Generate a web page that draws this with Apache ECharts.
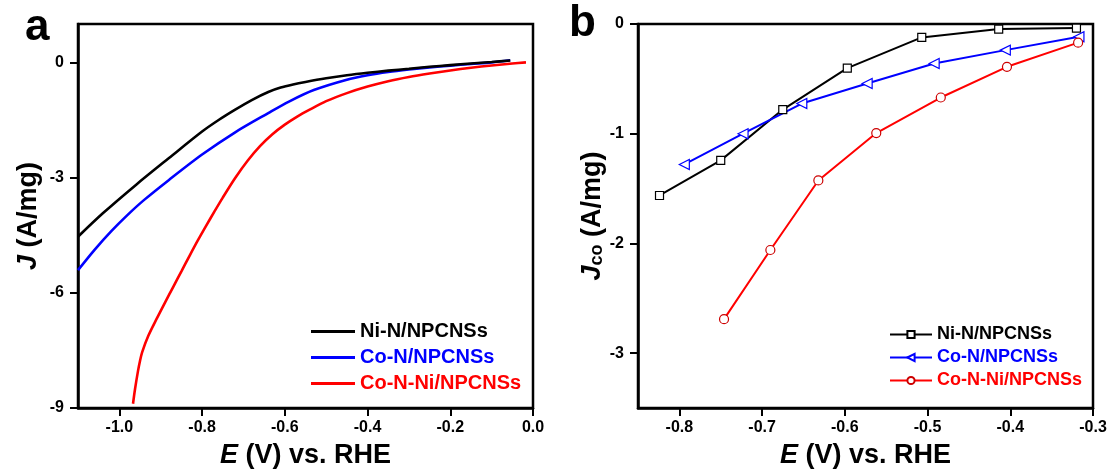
<!DOCTYPE html>
<html>
<head>
<meta charset="utf-8">
<script src="https://cdn.jsdelivr.net/npm/echarts@6/dist/echarts.min.js"></script>
<style>
  html, body { margin: 0; padding: 0; background: #fff; }
  #chart { width: 1113px; height: 475px; }
</style>
</head>
<body>
<div id="chart"></div>
<script>
// Series names
const names = ['Ni-N/NPCNSs', 'Co-N/NPCNSs', 'Co-N-Ni/NPCNSs'];
const colors = ['#000000', '#0000ff', '#ff0000'];

// (a) polarization curves: potential E (V vs. RHE) and current density J (A/mg)
const lsvE_NiN = [-1.10, -1.04, -0.96, -0.88, -0.80, -0.76, -0.72, -0.68, -0.64, -0.61, -0.58, -0.55, -0.50, -0.45, -0.40, -0.35, -0.30, -0.25, -0.20, -0.15, -0.10, -0.055];
const lsvJ_NiN = [-4.54, -3.93, -3.19, -2.49, -1.80, -1.50, -1.23, -0.98, -0.77, -0.655, -0.575, -0.51, -0.415, -0.335, -0.27, -0.215, -0.165, -0.115, -0.07, -0.03, 0.01, 0.05];
const lsvE_CoN = [-1.10, -1.06, -1.02, -0.98, -0.94, -0.88, -0.80, -0.72, -0.64, -0.59, -0.53, -0.45, -0.40, -0.35, -0.30, -0.25, -0.20, -0.15, -0.10, -0.055];
const lsvJ_CoN = [-5.41, -4.88, -4.40, -3.97, -3.58, -3.06, -2.40, -1.82, -1.32, -1.02, -0.72, -0.45, -0.335, -0.25, -0.185, -0.13, -0.083, -0.04, 0.0, 0.055];
const lsvE_CoNNi = [-0.967, -0.962, -0.955, -0.95, -0.945, -0.93, -0.91, -0.89, -0.87, -0.85, -0.83, -0.81, -0.79, -0.77, -0.75, -0.72, -0.69, -0.66, -0.63, -0.60, -0.57, -0.54, -0.50, -0.45, -0.40, -0.35, -0.30, -0.25, -0.20, -0.15, -0.10, -0.05, -0.017];
const lsvJ_CoNNi = [-8.89, -8.50, -8.04, -7.77, -7.55, -7.12, -6.68, -6.26, -5.85, -5.44, -5.03, -4.63, -4.25, -3.88, -3.52, -3.01, -2.56, -2.18, -1.87, -1.62, -1.41, -1.23, -1.01, -0.80, -0.63, -0.49, -0.38, -0.29, -0.21, -0.14, -0.08, -0.03, 0.0];

// (b) CO partial current density J_co at each potential
const coE_NiN = [-0.824, -0.750, -0.675, -0.597, -0.507, -0.414, -0.320];
const coJ_NiN = [-1.563, -1.243, -0.78, -0.402, -0.122, -0.046, -0.037];
const coE_CoN = [-0.794, -0.723, -0.652, -0.573, -0.492, -0.406, -0.317];
const coJ_CoN = [-1.28, -1.0, -0.725, -0.543, -0.36, -0.238, -0.116];
const coE_CoNNi = [-0.746, -0.690, -0.632, -0.562, -0.484, -0.404, -0.318];
const coJ_CoNNi = [-2.69, -2.06, -1.426, -0.994, -0.67, -0.39, -0.17];

// Tick values
const ticksXa = [-1.0, -0.8, -0.6, -0.4, -0.2, 0.0];
const ticksYa = [0, -3, -6, -9];
const ticksXb = [-0.8, -0.7, -0.6, -0.5, -0.4, -0.3];
const ticksYb = [0, -1, -2, -3];

const zip = (xs, ys) => xs.map((x, i) => [x, ys[i]]);

const FONT = '"Liberation Sans", Arial, sans-serif';
const AXIS_W = 2.5;

function xAxisOf(gridIndex, min, max, ticks) {
  return {
    type: 'value', gridIndex, min, max,
    axisLine: { show: true, onZero: false, lineStyle: { color: '#000', width: AXIS_W } },
    axisTick: { show: true, customValues: ticks, length: 8, inside: false, lineStyle: { color: '#000', width: 2 } },
    axisLabel: {
      customValues: ticks, margin: 12, color: '#000', fontFamily: FONT, fontWeight: 'bold', fontSize: 16,
      formatter: v => v.toFixed(1)
    },
    splitLine: { show: false },
    name: '{i|E} (V) vs. RHE', nameLocation: 'middle', nameGap: 34,
    nameTextStyle: {
      color: '#000', fontFamily: FONT, fontWeight: 'bold', fontSize: 27,
      rich: { i: { fontFamily: FONT, fontWeight: 'bold', fontStyle: 'italic', fontSize: 27, color: '#000' } }
    }
  };
}

function yAxisOf(gridIndex, min, max, ticks, name, rich, gap) {
  return {
    type: 'value', gridIndex, min, max,
    axisLine: { show: true, onZero: false, lineStyle: { color: '#000', width: AXIS_W } },
    axisTick: { show: true, customValues: ticks, length: 8, inside: false, lineStyle: { color: '#000', width: 2 } },
    axisLabel: {
      customValues: ticks, margin: 14, color: '#000', fontFamily: FONT, fontWeight: 'bold', fontSize: 16,
      formatter: v => String(v)
    },
    splitLine: { show: false },
    name, nameLocation: 'middle', nameGap: gap,
    nameTextStyle: { color: '#000', fontFamily: FONT, fontWeight: 'bold', fontSize: 27, rich }
  };
}

const richJ = {
  i: { fontFamily: FONT, fontWeight: 'bold', fontStyle: 'italic', fontSize: 27, color: '#000' }
};
const richJco = {
  i: { fontFamily: FONT, fontWeight: 'bold', fontStyle: 'italic', fontSize: 27, color: '#000' },
  s: { fontFamily: FONT, fontWeight: 'bold', fontSize: 18, color: '#000', verticalAlign: 'bottom', padding: [14, 0, 0, 0], lineHeight: 18 }
};

const lsvSeries = [
  [lsvE_NiN, lsvJ_NiN],
  [lsvE_CoN, lsvJ_CoN],
  [lsvE_CoNNi, lsvJ_CoNNi]
].map(([xs, ys], k) => ({
  name: names[k], type: 'line', xAxisIndex: 0, yAxisIndex: 0,
  data: zip(xs, ys), symbol: 'none', smooth: 0.3,
  lineStyle: { color: colors[k], width: 2.6 }, itemStyle: { color: colors[k] },
  z: 3 - k, animation: false
}));

const markerDefs = [
  { symbol: 'rect', size: 8, rotate: 0, border: '#000000' },
  { symbol: 'triangle', size: 10, rotate: 90, border: '#0000ff' },
  { symbol: 'circle', size: 9, rotate: 0, border: '#cc0000' }
];

const coSeries = [
  [coE_NiN, coJ_NiN],
  [coE_CoN, coJ_CoN],
  [coE_CoNNi, coJ_CoNNi]
].map(([xs, ys], k) => ({
  name: names[k] + ' ', type: 'line', xAxisIndex: 1, yAxisIndex: 1,
  data: zip(xs, ys), symbol: markerDefs[k].symbol, symbolSize: markerDefs[k].size,
  symbolRotate: markerDefs[k].rotate, showSymbol: true,
  lineStyle: { color: colors[k], width: 2 },
  itemStyle: { color: '#ffffff', borderColor: markerDefs[k].border, borderWidth: 1.2 },
  z: 3, animation: false
}));

// plain line icon for the curve legend
const lineIcon = 'path://M0,0 L44,0 L44,3 L0,3 Z';

const chart = echarts.init(document.getElementById('chart'), null, { renderer: 'canvas' });
chart.setOption({
  backgroundColor: '#ffffff',
  animation: false,
  grid: [
    { left: 78, top: 24, width: 455, height: 384, show: true, borderColor: '#000', borderWidth: AXIS_W, backgroundColor: 'transparent' },
    { left: 638, top: 24, width: 455, height: 384, show: true, borderColor: '#000', borderWidth: AXIS_W, backgroundColor: 'transparent' }
  ],
  xAxis: [
    xAxisOf(0, -1.1, 0, ticksXa),
    xAxisOf(1, -0.85, -0.3, ticksXb)
  ],
  yAxis: [
    yAxisOf(0, -9, 1, ticksYa, '{i|J} (A/mg)', richJ, 36),
    yAxisOf(1, -3.5, 0, ticksYb, '{i|J}{s|co} (A/mg)', richJco, 30)
  ],
  legend: [
    {
      orient: 'vertical', left: 306, top: 316, itemWidth: 44, itemHeight: 3, itemGap: 5,
      icon: lineIcon,
      textStyle: { fontFamily: FONT, fontWeight: 'bold', fontSize: 20, lineHeight: 21 },
      data: names.map((n, k) => ({ name: n, textStyle: { color: colors[k] } })),
      selectedMode: false
    },
    {
      orient: 'vertical', left: 884, top: 320, itemWidth: 42, itemHeight: 9, itemGap: 4,
      textStyle: { fontFamily: FONT, fontWeight: 'bold', fontSize: 18, lineHeight: 19 },
      data: names.map((n, k) => ({ name: n + ' ', textStyle: { color: colors[k] } })),
      selectedMode: false
    }
  ],
  graphic: [
    { type: 'text', left: 25, top: 6, style: { text: 'a', fontFamily: FONT, fontWeight: 'bold', fontSize: 44, fill: '#000' } },
    { type: 'text', left: 569, top: 2, style: { text: 'b', fontFamily: FONT, fontWeight: 'bold', fontSize: 44, fill: '#000' } }
  ],
  series: lsvSeries.concat(coSeries)
});
</script>
</body>
</html>
